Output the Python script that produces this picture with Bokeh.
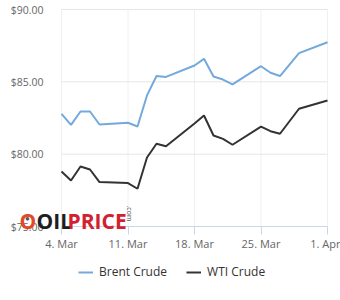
import math
import pandas as pd
from bokeh.plotting import figure
from bokeh.models import (ColumnDataSource, FixedTicker, Legend, LegendItem,
                          Label, Range1d)
from bokeh.embed import file_html
from bokeh.resources import INLINE

# ---- data ----
dates = ["2024-03-04", "2024-03-05", "2024-03-06", "2024-03-07", "2024-03-08",
         "2024-03-11", "2024-03-12", "2024-03-13", "2024-03-14", "2024-03-15",
         "2024-03-18", "2024-03-19", "2024-03-20", "2024-03-21", "2024-03-22",
         "2024-03-25", "2024-03-26", "2024-03-27", "2024-03-29", "2024-04-01"]
brent = [82.79, 82.03, 82.95, 82.95, 82.05,
         82.17, 81.91, 84.06, 85.40, 85.34,
         86.13, 86.59, 85.37, 85.16, 84.82,
         86.08, 85.63, 85.40, 86.98, 87.74]
wti = [78.80, 78.18, 79.15, 78.94, 78.07,
       78.00, 77.61, 79.77, 80.72, 80.55,
       82.12, 82.67, 81.29, 81.06, 80.65,
       81.91, 81.59, 81.41, 83.14, 83.71]
series_names = ["Brent Crude", "WTI Crude"]
x_tick_dates = ["2024-03-04", "2024-03-11", "2024-03-18", "2024-03-25", "2024-04-01"]
x_tick_labels = ["4. Mar", "11. Mar", "18. Mar", "25. Mar", "1. Apr"]
y_ticks = [75, 80, 85, 90]
y_tick_labels = ["$75.00", "$80.00", "$85.00", "$90.00"]

FONT = "Open Sans"
BRENT_COLOR = "#74a9dc"
WTI_COLOR = "#333333"

# layout (pixels, canvas coordinates from top-left); the frame fills the canvas
W, H = 340, 300
PLOT_L, PLOT_R, PLOT_T, PLOT_B = 61, 327, 9, 226

src = ColumnDataSource(dict(date=pd.to_datetime(dates), brent=brent, wti=wti))
x_ticks_dt = pd.to_datetime(x_tick_dates)
x_ticks_ms = [int(t.value // 10**6) for t in x_ticks_dt]
x_lo, x_hi = x_ticks_ms[0], x_ticks_ms[-1]
y_lo, y_hi = y_ticks[0], y_ticks[-1]
ms_per_px = (x_hi - x_lo) / (PLOT_R - PLOT_L)
val_per_px = (y_hi - y_lo) / (PLOT_B - PLOT_T)

p = figure(width=W, height=H, x_axis_type="datetime",
           output_backend="svg", toolbar_location=None,
           min_border=0,
           x_range=Range1d(x_lo - PLOT_L * ms_per_px, x_hi + (W - PLOT_R) * ms_per_px),
           y_range=Range1d(y_lo - (H - PLOT_B) * val_per_px, y_hi + PLOT_T * val_per_px))
p.outline_line_color = None
p.background_fill_color = "white"
p.border_fill_color = "white"

# grid lines limited to the data area
p.xgrid.visible = False
p.ygrid.visible = False
p.segment(x0=x_ticks_ms, x1=x_ticks_ms, y0=[y_lo] * len(x_ticks_ms), y1=[y_hi] * len(x_ticks_ms),
          line_color="#f0f0f0", line_width=1, level="underlay")
p.segment(x0=[x_lo] * len(y_ticks), x1=[x_hi] * len(y_ticks), y0=y_ticks, y1=y_ticks,
          line_color="#e6e6e6", line_width=1, level="underlay")

r1 = p.line("date", "brent", source=src, line_color=BRENT_COLOR, line_width=2)
r2 = p.line("date", "wti", source=src, line_color=WTI_COLOR, line_width=2)

# axes (drawn at fixed data locations)
p.xaxis.fixed_location = y_lo
p.xaxis.ticker = FixedTicker(ticks=x_ticks_ms)
p.xaxis.bounds = (x_lo, x_hi)
p.xaxis.major_label_overrides = {ms: lab for ms, lab in zip(x_ticks_ms, x_tick_labels)}
p.xaxis.axis_line_color = "#ccd6eb"
p.xaxis.major_tick_line_color = "#ccd6eb"
p.xaxis.major_tick_out = 8
p.xaxis.major_tick_in = 0
p.xaxis.minor_tick_line_color = None
p.xaxis.major_label_standoff = 1
p.xaxis.major_label_text_font = FONT
p.xaxis.major_label_text_font_size = "11px"
p.xaxis.major_label_text_color = "#666666"

p.yaxis.fixed_location = x_lo
p.yaxis.ticker = FixedTicker(ticks=y_ticks)
p.yaxis.bounds = (y_lo, y_hi)
p.yaxis.major_label_overrides = {t: lab for t, lab in zip(y_ticks, y_tick_labels)}
p.yaxis.axis_line_color = None
p.yaxis.major_tick_line_color = None
p.yaxis.minor_tick_line_color = None
p.yaxis.major_label_standoff = 12
p.yaxis.major_label_text_font = FONT
p.yaxis.major_label_text_font_size = "10.5px"
p.yaxis.major_label_text_color = "#666666"

# legend below the axis
lg = Legend(items=[LegendItem(label=series_names[0], renderers=[r1]),
                   LegendItem(label=series_names[1], renderers=[r2])],
            location=(78, H - 280), orientation="horizontal",
            padding=0, margin=0, spacing=19,
            glyph_width=15, glyph_height=14, label_height=14,
            label_standoff=6,
            label_text_font=FONT, label_text_font_size="12px",
            label_text_color="#333333",
            border_line_color=None, background_fill_alpha=0)
p.add_layout(lg, "center")

# OILPRICE.com watermark (screen units, y measured from the bottom)
BASE = H - 220
common = dict(x_units="screen", y_units="screen", text_font=FONT,
              text_font_style="bold", text_baseline="alphabetic")
p.add_layout(Label(x=19, y=BASE, text="O", text_font_size="21px",
                   text_color="#de4a2a", **common))
p.add_layout(Label(x=24.5, y=BASE + 3, text="\u25cf", text_font_size="8px",
                   text_color="#555555", **common))
p.add_layout(Label(x=36, y=BASE, text="OIL", text_font_size="21px",
                   text_color="#1e1e1e", **common))
p.add_layout(Label(x=67, y=BASE, text="PRICE", text_font_size="21px",
                   text_color="#d3202f", **common))
p.add_layout(Label(x=129, y=BASE + 15, text=".com", text_font_size="7px",
                   angle=-math.pi / 2, text_color="#555555",
                   x_units="screen", y_units="screen", text_font=FONT,
                   text_baseline="alphabetic"))

open("out.html", "w").write(file_html(p, INLINE))
